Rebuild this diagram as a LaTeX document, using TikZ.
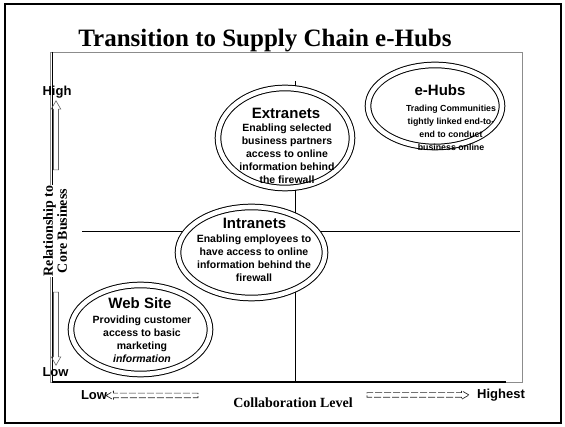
\documentclass[tikz,border=0pt]{standalone}
\usepackage{fontspec}
\setmainfont{Liberation Serif}
\setsansfont{Liberation Sans}
\usetikzlibrary{shapes.geometric,shapes.arrows}
\begin{document}
\begin{tikzpicture}[x=1pt,y=-1pt,
  oval/.style={ellipse, draw, double, double distance=4.6pt, line width=1pt, fill=white, inner sep=0pt},
  ttl/.style={font=\sffamily\bfseries\fontsize{15}{17}\selectfont, inner sep=0pt},
  bodytxt/.style={font=\sffamily\bfseries\fontsize{10.5}{13}\selectfont, align=center, inner sep=0pt},
  smalltxt/.style={font=\sffamily\bfseries\fontsize{8.8}{13}\selectfont, align=center, inner sep=0pt},
  axlab/.style={font=\sffamily\bfseries\fontsize{13}{15}\selectfont, inner sep=0pt},
  serlab/.style={font=\rmfamily\bfseries\fontsize{14}{14}\selectfont, inner sep=1pt},
  varrow/.style={single arrow, draw=black!60, line width=0.6pt, inner sep=2.2pt, minimum width=0pt, single arrow head extend=2.3pt, single arrow tip angle=60},
  harrow/.style={single arrow, draw=black!85, dash pattern=on 7pt off 2pt, line width=0.7pt, inner sep=2pt, minimum width=0pt, single arrow head extend=2pt, single arrow tip angle=60},
  quad/.style={line width=1pt}]
\useasboundingbox (0,0) rectangle (565,427);
% frames
\draw[line width=1.6pt] (5,4) rectangle (561,423);
\draw[black!45, line width=0.6pt] (50,52) rectangle (522,382);
\draw[line width=0.8pt] (52,52) -- (52,382);
\draw[line width=1.6pt] (52,382) -- (506,382);
% title
\node[font=\rmfamily\bfseries\fontsize{25}{28}\selectfont, anchor=base, inner sep=0pt] (title) at (265,47) {Transition to Supply Chain e-Hubs};
% quadrant lines
\coordinate (hl) at (82,232);
\coordinate (hr) at (520,232);
\coordinate (vt) at (295,81);
\coordinate (vb) at (295,382);
\draw[quad] (hl) -- (hr);
\draw[line width=0.8pt] (vt) -- (vb);
% ellipses
\node[oval, minimum width=134pt, minimum height=100pt] (ext) at (285,138) {};
\node[oval, minimum width=134pt, minimum height=82pt] (hub) at (435,106) {};
\node[oval, minimum width=147pt, minimum height=91pt] (intra) at (251.5,252.5) {};
\node[oval, minimum width=139pt, minimum height=89pt] (web) at (140.5,329.5) {};
% texts
\node[ttl] (extT) at (286,113) {Extranets};
\node[bodytxt] (extB) at (287,154) {Enabling selected\\business partners\\access to online\\information behind\\the firewall};
\node[ttl] (hubT) at (440,90) {e-Hubs};
\node[smalltxt] (hubB) at (451,128) {Trading Communities\\tightly linked end-to-\\end to conduct\\business online};
\node[ttl] (intraT) at (254.5,223) {Intranets};
\node[bodytxt] (intraB) at (254,258.5) {Enabling employees to\\have access to online\\information behind the\\firewall};
\node[ttl] (webT) at (140,303) {Web Site};
\node[bodytxt] (webB) at (142,339) {Providing customer\\access to basic\\marketing\\\textit{information}};
% y axis
\node[axlab] (high) at (57,92) {High};
\node[varrow, minimum height=69pt, shape border rotate=90] (uparr) at (56,137.5) {};
\node[serlab, rotate=90, align=center, fill=white] (ylab) at (55,231) {Relationship to\\Core Business};
\node[varrow, minimum height=73pt, shape border rotate=270] (dnarr) at (56,326.5) {};
\node[axlab] (lowy) at (55.5,372) {Low};
% x axis
\node[axlab] (lowx) at (94,395) {Low};
\node[harrow, minimum height=92pt, shape border rotate=180] (larr) at (154,395.5) {};
\node[serlab] (xlab) at (293,403) {Collaboration Level};
\node[harrow, minimum height=102pt] (rarr) at (416,395) {};
\node[axlab] (highest) at (501,395) {Highest};
\end{tikzpicture}
\end{document}
